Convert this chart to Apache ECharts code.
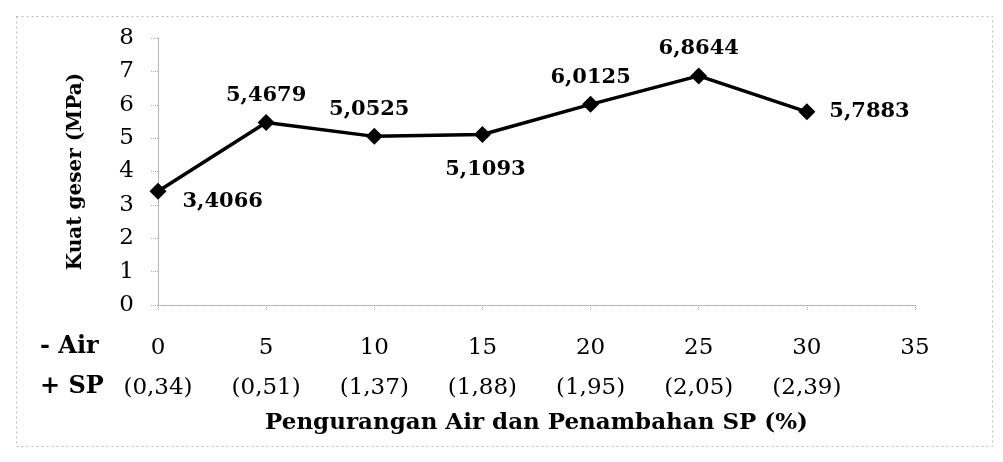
<!DOCTYPE html>
<html lang="en">
<head>
	<meta charset="UTF-8">
	<title>Kuat geser</title>
	<script src="https://cdn.jsdelivr.net/npm/echarts@6/dist/echarts.min.js"></script>
	<style>
		html, body { margin: 0; padding: 0; background: #fff; }
		#chart { width: 1003px; height: 462px; }
	</style>
</head>
<body>
	<div id="chart"></div>
	<script>
		// pengurangan air (%) dan kuat geser (MPa)
		var airValues = [0, 5, 10, 15, 20, 25, 30];
		var kuatGeser = [3.4066, 5.4679, 5.0525, 5.1093, 6.0125, 6.8644, 5.7883];
		var spLabels = ['(0,34)', '(0,51)', '(1,37)', '(1,88)', '(1,95)', '(2,05)', '(2,39)'];
		var yTicks = [0, 1, 2, 3, 4, 5, 6, 7, 8];

		var serif = 'DejaVu Serif';

		// posisi label tiap titik
		var labelPlace = {
			0: { position: 'right', offset: [8, 10] },
			2: { position: 'top', offset: [-5, 0] },
			3: { position: 'bottom', offset: [3, 8] },
			6: { position: 'right', offset: [6, 0] }
		};

		var points = airValues.map(function (x, i) {
			var item = { value: [x, kuatGeser[i]] };
			if (labelPlace[i]) item.label = labelPlace[i];
			return item;
		});

		var option = {
			backgroundColor: '#fff',
			animation: false,
			grid: { left: 158, right: 88, top: 38, bottom: 157 },
			xAxis: {
				type: 'value',
				min: 0,
				max: 35,
				interval: 5,
				axisLine: { onZero: false, lineStyle: { color: '#aaa', type: 'dotted', width: 1 } },
				axisTick: { length: 6, lineStyle: { color: '#aaa', type: 'dotted' } },
				splitLine: { show: false },
				axisLabel: {
					margin: 23,
					formatter: function (v) {
						var i = airValues.indexOf(v);
						return '{a|' + v + '}\n{b|' + (i >= 0 ? spLabels[i] : ' ') + '}';
					},
					rich: {
						a: { fontFamily: serif, fontSize: 23, color: '#000', lineHeight: 40 },
						b: { fontFamily: serif, fontSize: 23, color: '#000', lineHeight: 40 }
					}
				},
				name: 'Pengurangan Air dan Penambahan SP (%)',
				nameLocation: 'middle',
				nameGap: 107,
				nameTextStyle: { fontFamily: serif, fontWeight: 'bold', fontSize: 23, color: '#000' }
			},
			yAxis: {
				type: 'value',
				min: yTicks[0],
				max: yTicks[yTicks.length - 1],
				interval: 1,
				axisLine: { show: true, lineStyle: { color: '#aaa', type: 'dotted', width: 1 } },
				axisTick: { show: true, length: 8, lineStyle: { color: '#aaa', type: 'dotted' } },
				splitLine: { show: false },
				axisLabel: { margin: 24, fontFamily: serif, fontSize: 23, color: '#000' },
				name: 'Kuat geser (MPa)',
				nameLocation: 'middle',
				nameGap: 72,
				nameTextStyle: { fontFamily: serif, fontWeight: 'bold', fontSize: 20, color: '#000' }
			},
			graphic: [
				{
					type: 'rect', left: 14, top: 14, silent: true,
					shape: { width: 976, height: 430 },
					style: { fill: 'none', stroke: '#bbb', lineWidth: 1, lineDash: [2, 3] }
				},
				{
					type: 'text', left: 40, top: 335,
					style: { text: '- Air', font: 'bold 24px "DejaVu Serif"', fill: '#000' }
				},
				{
					type: 'text', left: 40, top: 375,
					style: { text: '+ SP', font: 'bold 24px "DejaVu Serif"', fill: '#000' }
				}
			],
			series: [{
				type: 'line',
				data: points,
				symbol: 'diamond',
				symbolSize: 17,
				itemStyle: { color: '#000' },
				lineStyle: { color: '#000', width: 3.5 },
				label: {
					show: true,
					position: 'top',
					distance: 8,
					fontFamily: serif,
					fontWeight: 'bold',
					fontSize: 21,
					color: '#000',
					formatter: function (p) {
						return String(p.value[1]).replace('.', ',');
					}
				}
			}]
		};

		var myChart = echarts.init(document.getElementById('chart'));
		myChart.setOption(option);
	</script>
</body>
</html>
